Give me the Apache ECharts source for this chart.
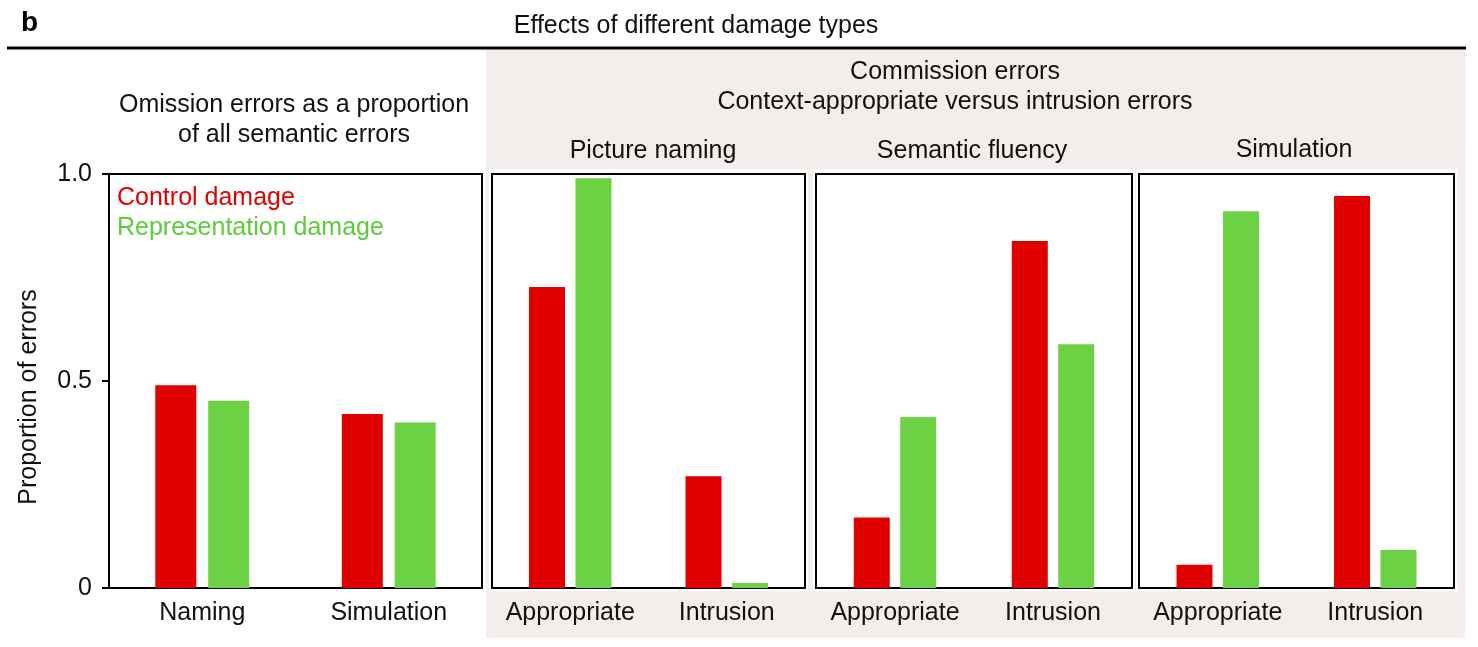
<!DOCTYPE html>
<html>
<head>
<meta charset="utf-8">
<script src="https://cdn.jsdelivr.net/npm/echarts@6/dist/echarts.min.js"></script>
<style>
  html, body { margin: 0; padding: 0; background: #fff; }
  #chart { width: 1478px; height: 647px; }
</style>
</head>
<body>
<div id="chart"></div>
<script>
// ---- data ----
const panelTitles = ['', 'Picture naming', 'Semantic fluency', 'Simulation'];
const omissionCategories = ['Naming', 'Simulation'];
const commissionCategories = ['Appropriate', 'Intrusion'];
const omissionControl = [0.49, 0.42];
const omissionRepresentation = [0.452, 0.40];
const pictureNamingControl = [0.727, 0.27];
const pictureNamingRepresentation = [0.99, 0.012];
const fluencyControl = [0.17, 0.838];
const fluencyRepresentation = [0.413, 0.589];
const simulationControl = [0.056, 0.947];
const simulationRepresentation = [0.91, 0.092];
const yTickLabels = { 0: '0', 0.5: '0.5', 1: '1.0' };
const seriesNames = ['Control damage', 'Representation damage'];

const RED = '#e00000';
const GREEN = '#6dd144';
const FONT = 'Liberation Sans, Arial, Helvetica, sans-serif';
const FS = 25;

const grids = [
  { left: 109, top: 174, width: 373, height: 414 },
  { left: 492, top: 174, width: 313, height: 414 },
  { left: 816, top: 174, width: 316, height: 414 },
  { left: 1139, top: 174, width: 315, height: 414 }
];
const cats = [omissionCategories, commissionCategories, commissionCategories, commissionCategories];
const ctrl = [omissionControl, pictureNamingControl, fluencyControl, simulationControl];
const repr = [omissionRepresentation, pictureNamingRepresentation, fluencyRepresentation, simulationRepresentation];
const barW = [41, 36, 36, 36];

const option = {
  backgroundColor: '#fff',
  animation: false,
  textStyle: { fontFamily: FONT },
  grid: grids.map(g => Object.assign({
    show: true, borderColor: '#000', borderWidth: 2, backgroundColor: '#fff'
  }, g)),
  xAxis: grids.map((g, i) => ({
    type: 'category', gridIndex: i, data: cats[i],
    axisLine: { show: false }, axisTick: { show: false },
    axisLabel: { interval: 0, hideOverlap: false, fontSize: FS, color: '#111', margin: 13, fontFamily: FONT }
  })),
  yAxis: grids.map((g, i) => i === 0 ? ({
    type: 'value', gridIndex: i, min: 0, max: 1, interval: 0.5,
    name: 'Proportion of errors', nameLocation: 'middle', nameGap: 67,
    nameTextStyle: { fontSize: FS, color: '#111', fontFamily: FONT, padding: [0, 32, 0, 0] },
    axisLine: { show: true, lineStyle: { color: '#000', width: 2 } },
    axisTick: { show: true, length: 7, lineStyle: { color: '#000', width: 2 } },
    splitLine: { show: false },
    axisLabel: { fontSize: FS, color: '#111', margin: 17, fontFamily: FONT,
      formatter: v => yTickLabels[v] !== undefined ? yTickLabels[v] : '' }
  }) : ({
    type: 'value', gridIndex: i, min: 0, max: 1, show: false, splitLine: { show: false }
  })),
  series: [].concat(...grids.map((g, i) => [
    { type: 'bar', name: seriesNames[0], xAxisIndex: i, yAxisIndex: i, data: ctrl[i],
      barWidth: barW[i], barGap: '29%', itemStyle: { color: RED } },
    { type: 'bar', name: seriesNames[1], xAxisIndex: i, yAxisIndex: i, data: repr[i],
      barWidth: barW[i], barGap: '29%', itemStyle: { color: GREEN } }
  ])),
  graphic: [
    { type: 'rect', z: -10, shape: { x: 486, y: 50, width: 979, height: 588 }, style: { fill: '#f3eeeb' } },
    { type: 'rect', z: -9, shape: { x: 489, y: 169, width: 319, height: 422 }, style: { fill: '#fff' } },
    { type: 'rect', z: -9, shape: { x: 813, y: 169, width: 322, height: 422 }, style: { fill: '#fff' } },
    { type: 'rect', z: -9, shape: { x: 1136, y: 169, width: 321, height: 422 }, style: { fill: '#fff' } },
    { type: 'line', shape: { x1: 7, y1: 48, x2: 1466, y2: 48 }, style: { stroke: '#000', lineWidth: 3 } },
    { type: 'text', x: 21, y: 23, style: { text: 'b', font: 'bold 28px ' + FONT, fill: '#000', textVerticalAlign: 'middle' } },
    { type: 'text', x: 696, y: 26, style: { text: 'Effects of different damage types', font: FS + 'px ' + FONT, fill: '#111', textAlign: 'center', textVerticalAlign: 'middle' } },
    { type: 'text', x: 955, y: 72, style: { text: 'Commission errors', font: FS + 'px ' + FONT, fill: '#111', textAlign: 'center', textVerticalAlign: 'middle' } },
    { type: 'text', x: 955, y: 102, style: { text: 'Context-appropriate versus intrusion errors', font: FS + 'px ' + FONT, fill: '#111', textAlign: 'center', textVerticalAlign: 'middle' } },
    { type: 'text', x: 294, y: 105, style: { text: 'Omission errors as a proportion', font: FS + 'px ' + FONT, fill: '#111', textAlign: 'center', textVerticalAlign: 'middle' } },
    { type: 'text', x: 294, y: 135, style: { text: 'of all semantic errors', font: FS + 'px ' + FONT, fill: '#111', textAlign: 'center', textVerticalAlign: 'middle' } },
    { type: 'text', x: 653, y: 151, style: { text: panelTitles[1], font: FS + 'px ' + FONT, fill: '#111', textAlign: 'center', textVerticalAlign: 'middle' } },
    { type: 'text', x: 972, y: 151, style: { text: panelTitles[2], font: FS + 'px ' + FONT, fill: '#111', textAlign: 'center', textVerticalAlign: 'middle' } },
    { type: 'text', x: 1294, y: 150, style: { text: panelTitles[3], font: FS + 'px ' + FONT, fill: '#111', textAlign: 'center', textVerticalAlign: 'middle' } },
    { type: 'text', x: 117, y: 198, style: { text: seriesNames[0], font: FS + 'px ' + FONT, fill: RED, textAlign: 'left', textVerticalAlign: 'middle' } },
    { type: 'text', x: 117, y: 228, style: { text: seriesNames[1], font: FS + 'px ' + FONT, fill: '#5ccc3a', textAlign: 'left', textVerticalAlign: 'middle' } }
  ]
};

const chart = echarts.init(document.getElementById('chart'), null, { renderer: 'canvas' });
chart.setOption(option);
</script>
</body>
</html>
